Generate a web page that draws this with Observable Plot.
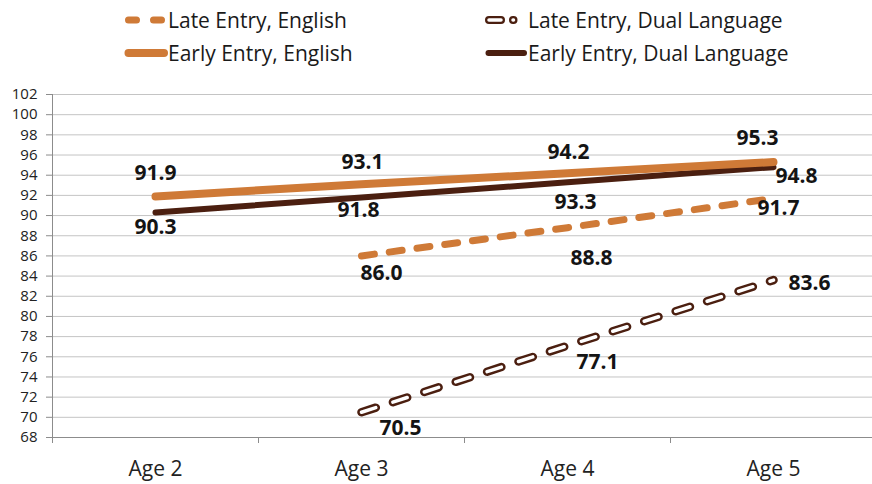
<!DOCTYPE html>
<html><head><meta charset="utf-8">
<script src="https://cdn.jsdelivr.net/npm/d3@7"></script>
<script src="https://cdn.jsdelivr.net/npm/@observablehq/plot@0.6"></script>
<style>
body{margin:0;background:#fff;font-family:"Open Sans",sans-serif;}
#legend{position:relative;width:872px;height:70px;}
.item{position:absolute;display:flex;align-items:center;height:30px;font-size:21px;color:#1a1a1a;white-space:nowrap;}
.item svg{display:block;}
</style></head><body>
<div id="legend"></div>
<div id="chart"></div>
<script>
// ---- data ----
const ages = ["Age 2", "Age 3", "Age 4", "Age 5"];
const earlyEnglish = [91.9, 93.1, 94.2, 95.3];
const earlyDual = [90.3, 91.8, 93.3, 94.8];
const lateAges = ["Age 3", "Age 4", "Age 5"];
const lateEnglish = [86.0, 88.8, 91.7];
const lateDual = [70.5, 77.1, 83.6];
const yTicks = d3.range(68, 103, 2);
const seriesNames = ["Late Entry, English", "Late Entry, Dual Language", "Early Entry, English", "Early Entry, Dual Language"];

// ---- styles / layout ----
const ORANGE = "#CF7A37", BROWN = "#4B1F10";
const labelOffsets = {
  EE: [[0,-23],[1,-22],[1,-21],[-16,-24]],
  ED: [[0,15],[-3,13],[8,20],[23,9]],
  LE: [[20,17],[24,31],[5,10]],
  LD: [[39,16],[30,17],[36,3]]
};

const rows = (cats, vals) => cats.map((a, i) => ({age: a, xi: ages.indexOf(a), v: vals[i]}));
const EE = rows(ages, earlyEnglish), ED = rows(ages, earlyDual);
const LE = rows(lateAges, lateEnglish), LD = rows(lateAges, lateDual);

// ---- legend ----
function swatch(layers, x1, x2) {
  return `<svg width="46" height="16">` + layers.map(l =>
    `<line x1="${x1}" y1="8" x2="${x2}" y2="8" stroke="${l.c}" stroke-width="${l.w}" stroke-linecap="round" ${l.d ? `stroke-dasharray="${l.d}"` : ""}/>`
  ).join("") + `</svg>`;
}
const legendItems = [
  {name: seriesNames[0], left: 122, top: 5, sw: swatch([{c: ORANGE, w: 7, d: "8,17"}], 6.5, 41.5)},
  {name: seriesNames[1], left: 482, top: 5, sw: swatch([{c: BROWN, w: 8, d: "12,12"}, {c: "#fff", w: 3.5, d: "12,12"}], 7, 31.5)},
  {name: seriesNames[2], left: 122, top: 38, sw: swatch([{c: ORANGE, w: 8}], 6.5, 42)},
  {name: seriesNames[3], left: 482, top: 38, sw: swatch([{c: BROWN, w: 6}], 6.5, 42)}
];
const leg = document.getElementById("legend");
legendItems.forEach(it => {
  const d = document.createElement("div");
  d.className = "item";
  d.style.left = it.left + "px";
  d.style.top = it.top + "px";
  d.innerHTML = it.sw + `<span>${it.name}</span>`;
  leg.appendChild(d);
});

// ---- labels ----
function labels(data, offs) {
  return data.map((d, i) => Plot.text([d], {
    x: "xi", y: "v", text: r => r.v.toFixed(1),
    dx: offs[i][0], dy: offs[i][1],
    fontSize: 21, fontWeight: "bold", fill: "#141414",
    textAnchor: "middle", lineAnchor: "middle"
  }));
}

const chart = Plot.plot({
  width: 872, height: 414,
  marginLeft: 52, marginRight: 0, marginTop: 24, marginBottom: 47,
  style: {fontFamily: '"Open Sans", sans-serif', background: "#fff", color: "#222", overflow: "visible"},
  x: {type: "linear", domain: [-0.5, 3.5], range: [52, 876], label: null},
  y: {domain: [68, 102], range: [367, 24], label: null},
  marks: [
    Plot.gridY(yTicks, {stroke: "#c4c4c4", strokeOpacity: 1, strokeWidth: 1}),
    Plot.ruleX([-0.5], {stroke: "#8c8c8c", insetBottom: -6}),
    Plot.ruleY([68], {stroke: "#8c8c8c"}),
    Plot.axisY(yTicks, {tickSize: 6, tickPadding: 9, fontSize: 15, stroke: "#8c8c8c", fill: "#222", label: null}),
    Plot.axisX([0.5, 1.5, 2.5], {tickSize: 6, tickFormat: () => "", stroke: "#8c8c8c", label: null}),
    Plot.axisX([0, 1, 2, 3], {tickSize: 0, tickPadding: 24, tickFormat: i => ages[i], fontSize: 21, fill: "#222", label: null}),
    Plot.line(LD, {x: "xi", y: "v", stroke: BROWN, strokeWidth: 8.5, strokeDasharray: "15,18", strokeLinecap: "round"}),
    Plot.line(LD, {x: "xi", y: "v", stroke: "#fff", strokeWidth: 3.5, strokeDasharray: "15,18", strokeLinecap: "round"}),
    Plot.line(LE, {x: "xi", y: "v", stroke: ORANGE, strokeWidth: 7, strokeDasharray: "13,15", strokeLinecap: "round"}),
    Plot.line(ED, {x: "xi", y: "v", stroke: BROWN, strokeWidth: 6, strokeLinecap: "round"}),
    Plot.line(EE, {x: "xi", y: "v", stroke: ORANGE, strokeWidth: 8, strokeLinecap: "round"}),
    ...labels(EE, labelOffsets.EE),
    ...labels(ED, labelOffsets.ED),
    ...labels(LE, labelOffsets.LE),
    ...labels(LD, labelOffsets.LD)
  ]
});
document.getElementById("chart").appendChild(chart);
</script>
</body></html>
